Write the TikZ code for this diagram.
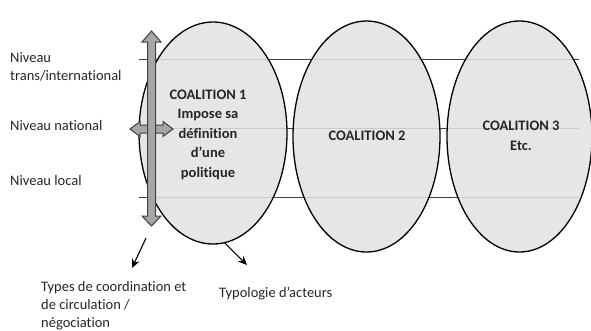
\documentclass[tikz,border=0pt]{standalone}
\usepackage{fontspec}
\setmainfont{Carlito}[Ligatures=NoCommon]
\usetikzlibrary{shapes.geometric,arrows.meta}
\definecolor{ellfill}{HTML}{E2E2E2}
\definecolor{linegray}{HTML}{404040}
\definecolor{arrfill}{HTML}{A6A6A6}
\tikzset{
  coal/.style={ellipse, draw=black, line width=1.3pt, fill=ellfill, fill opacity=0.86, inner sep=0pt, outer sep=0pt},
  level/.style={draw=linegray, line width=0.9pt},
  txt/.style={font=\fontsize{14.5}{18}\selectfont, inner sep=0pt, text=black!85},
  btxt/.style={txt, font=\fontsize{14.5}{19.5}\selectfont\bfseries, align=center},
  blockarrow/.style={draw=linegray, fill=arrfill, line width=1pt, line join=miter},
  thin/.style={line width=1.1pt, -{Stealth[length=9pt,width=8pt]}}
}
\begin{document}
\begin{tikzpicture}[x=1pt,y=-1pt]
\useasboundingbox (0,0) rectangle (591,330);
% level lines
\coordinate (t0) at (139,59.3);  \coordinate (t1) at (579,59.3);
\coordinate (m0) at (139,128.5); \coordinate (m1) at (579,128.5);
\coordinate (b0) at (139,197.7); \coordinate (b1) at (579,197.7);
\draw[level] (t0) -- (t1);
\draw[level] (m0) -- (m1);
\draw[level] (b0) -- (b1);
% coalitions
\node[coal, minimum width=148pt, minimum height=222pt] (e1) at (213,133) {};
\node[coal, minimum width=147pt, minimum height=231pt] (e2) at (366.5,136.5) {};
\node[coal, minimum width=145pt, minimum height=231pt] (e3) at (519.5,136.5) {};
% texts in coalitions (base anchor = last line)
\node[btxt, anchor=base] (c1) at (208,177.3) {COALITION 1\\Impose sa\\définition\\d’une\\politique};
\node[btxt, anchor=base] (c2) at (367,140.7) {COALITION 2};
\node[btxt, anchor=base] (c3) at (521,150) {COALITION 3\\Etc.};
% block arrows
\path[blockarrow] (130,129) -- (140,121.5) -- (140,125) -- (163,125) -- (163,121.5) -- (173,129)
  -- (163,136.5) -- (163,133) -- (140,133) -- (140,136.5) -- cycle;
\path[blockarrow] (151.5,31) -- (161,42) -- (155.5,42) -- (155.5,216) -- (161,216) -- (151.5,226)
  -- (142,216) -- (147.5,216) -- (147.5,42) -- (142,42) -- cycle;
% level labels
\node[txt, anchor=base west, align=left] (n1) at (10,80) {Niveau\\trans/international};
\node[txt, anchor=base west] (n2) at (10,130.7) {Niveau national};
\node[txt, anchor=base west] (n3) at (10,185) {Niveau local};
% thin arrows
\coordinate (a0) at (146,238); \coordinate (a1) at (132,268);
\coordinate (p1) at (247,265);
\draw[thin] (a0) -- (a1);
\draw[thin] (e1.-84) -- (p1);
% bottom labels
\node[txt, anchor=base west, align=left] (types) at (41,327.5) {Types de coordination et\\de circulation /\\négociation};
\node[txt, anchor=base west] (typo) at (219,297) {Typologie d’acteurs};
\end{tikzpicture}
\end{document}
